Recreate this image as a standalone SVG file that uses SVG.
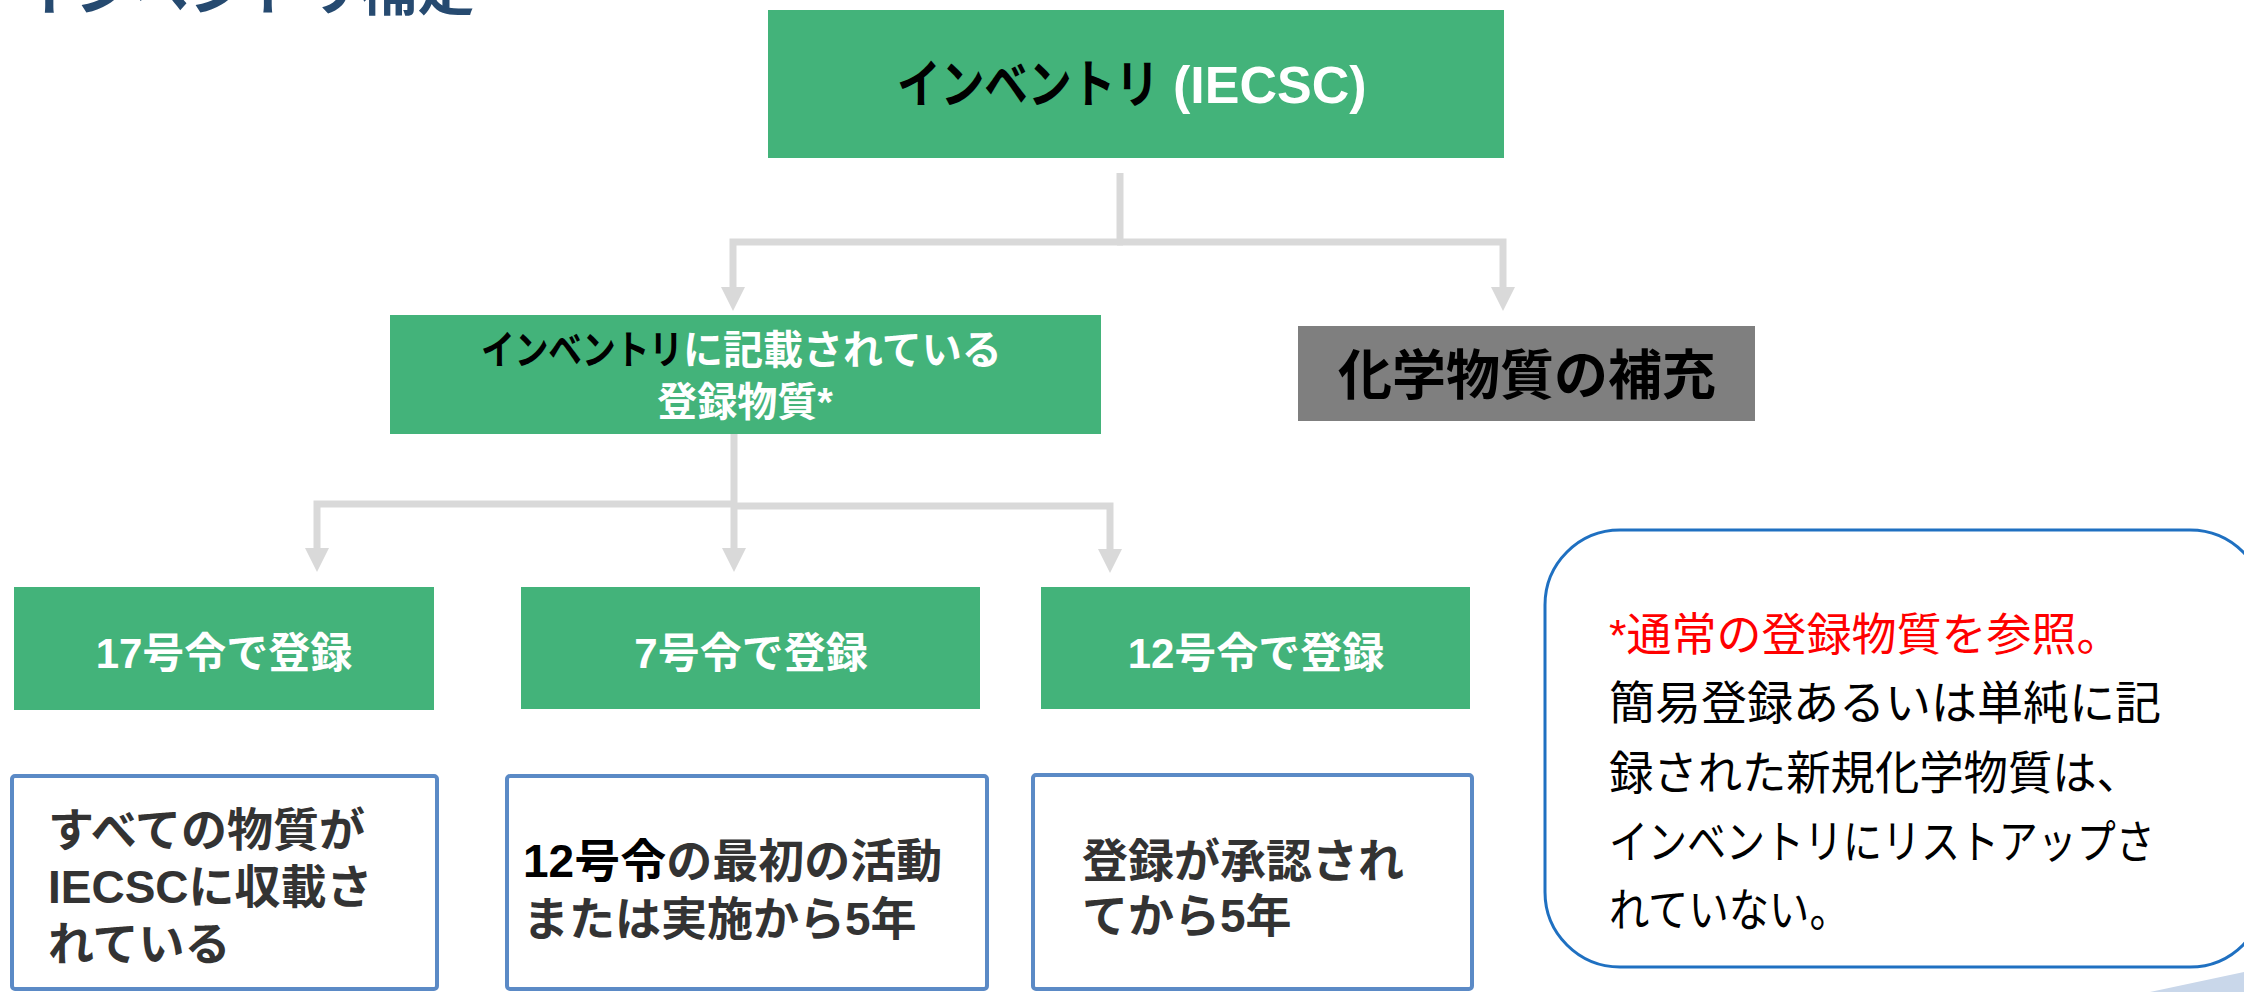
<svg xmlns="http://www.w3.org/2000/svg" width="2244" height="992" viewBox="0 0 2244 992">
  <defs>
    <style>
      text { font-family: "Liberation Sans", "Noto Sans CJK JP", sans-serif; }
      .green { fill: #43b37a; }
      .blue { fill: #ffffff; stroke: #5b8ac6; stroke-width: 4; }
      .wb { fill: #ffffff; font-weight: bold; }
      .dk { fill: #333333; font-weight: bold; font-size: 46px; }
      .conn { fill: none; stroke: #d9d9d9; stroke-width: 7; }
      .note { fill: #000000; font-size: 46px; }
    </style>
    <marker id="ah" markerUnits="userSpaceOnUse" markerWidth="24" markerHeight="24" viewBox="0 0 24 24" refX="0" refY="12" orient="auto">
      <path d="M0,0 L24,12 L0,24 z" fill="#d9d9d9"/>
    </marker>
  </defs>
  <rect width="2244" height="992" fill="#ffffff"/>

  <g id="title">
    <text x="18" y="10" font-size="57" font-weight="bold" fill="#264a70">インベントリ補足</text>
  </g>

  <g id="connectors">
    <path class="conn" d="M1120,173 V242"/>
    <path class="conn" d="M1123,242 H733 V287" marker-end="url(#ah)"/>
    <path class="conn" d="M1117,242 H1503 V287" marker-end="url(#ah)"/>
    <path class="conn" d="M734,434 V548" marker-end="url(#ah)"/>
    <path class="conn" d="M737,504 H317 V548" marker-end="url(#ah)"/>
    <path class="conn" d="M731,506 H1110 V549" marker-end="url(#ah)"/>
  </g>

  <g id="inventory">
    <rect class="green" x="768" y="10" width="736" height="148"/>
    <g transform="translate(897,103) scale(0.84,1)">
      <text x="0" y="0" font-size="52" font-weight="bold" fill="#000000">インベントリ</text>
    </g>
    <text x="1173" y="103" font-size="52" font-weight="bold" fill="#ffffff">(IECSC)</text>
  </g>

  <g id="registered">
    <rect class="green" x="390" y="315" width="711" height="119"/>
    <g transform="translate(481,364) scale(0.842,1)">
      <text x="0" y="0" font-size="40" font-weight="bold" fill="#000000">インベントリ</text>
    </g>
    <text x="683" y="364" font-size="40" class="wb">に記載されている</text>
    <text x="745" y="416" font-size="40" text-anchor="middle" class="wb">登録物質*</text>
  </g>

  <g id="supplement">
    <rect x="1298" y="326" width="457" height="95" fill="#7f7f7f"/>
    <text x="1527" y="395" font-size="54" font-weight="bold" fill="#000000" text-anchor="middle">化学物質の補充</text>
  </g>

  <g id="order17">
    <rect class="green" x="14" y="587" width="420" height="123"/>
    <text x="224" y="668" font-size="42" text-anchor="middle" class="wb">17号令で登録</text>
  </g>

  <g id="order7">
    <rect class="green" x="521" y="587" width="459" height="122"/>
    <text x="751" y="668" font-size="42" text-anchor="middle" class="wb">7号令で登録</text>
  </g>

  <g id="order12">
    <rect class="green" x="1041" y="587" width="429" height="122"/>
    <text x="1256" y="668" font-size="42" text-anchor="middle" class="wb">12号令で登録</text>
  </g>

  <g id="desc17">
    <rect class="blue" x="12" y="776" width="425" height="213" rx="3"/>
    <text class="dk" x="48" y="846">すべての物質が</text>
    <text class="dk" x="48" y="903">IECSCに収載さ</text>
    <text class="dk" x="48" y="960">れている</text>
  </g>

  <g id="desc7">
    <rect class="blue" x="507" y="776" width="480" height="213" rx="3"/>
    <text class="dk" x="523" y="877"><tspan fill="#000000">12号令</tspan>の最初の活動</text>
    <text class="dk" x="523" y="935">または実施から5年</text>
  </g>

  <g id="desc12">
    <rect class="blue" x="1033" y="775" width="439" height="214" rx="3"/>
    <text class="dk" x="1082" y="877">登録が承認され</text>
    <text class="dk" x="1082" y="932">てから5年</text>
  </g>

  <g id="note">
    <rect x="1545" y="530" width="720" height="437" rx="75" fill="#ffffff" stroke="#1f70c1" stroke-width="3"/>
    <text x="1609" y="651" font-size="45" fill="#ff0000">*通常の登録物質を参照。</text>
    <text class="note" x="1609" y="719">簡易登録あるいは単純に記</text>
    <g transform="translate(1609,789) scale(0.964,1)">
      <text class="note" x="0" y="0">録された新規化学物質は、</text>
    </g>
    <g transform="translate(1609,858) scale(0.848,1)">
      <text class="note" x="0" y="0">インベントリにリストアップさ</text>
    </g>
    <g transform="translate(1609,926) scale(0.877,1)">
      <text class="note" x="0" y="0">れていない。</text>
    </g>
  </g>

  <path d="M2150,992 L2244,972 L2244,992 Z" fill="#c9d7ea"/>
</svg>
